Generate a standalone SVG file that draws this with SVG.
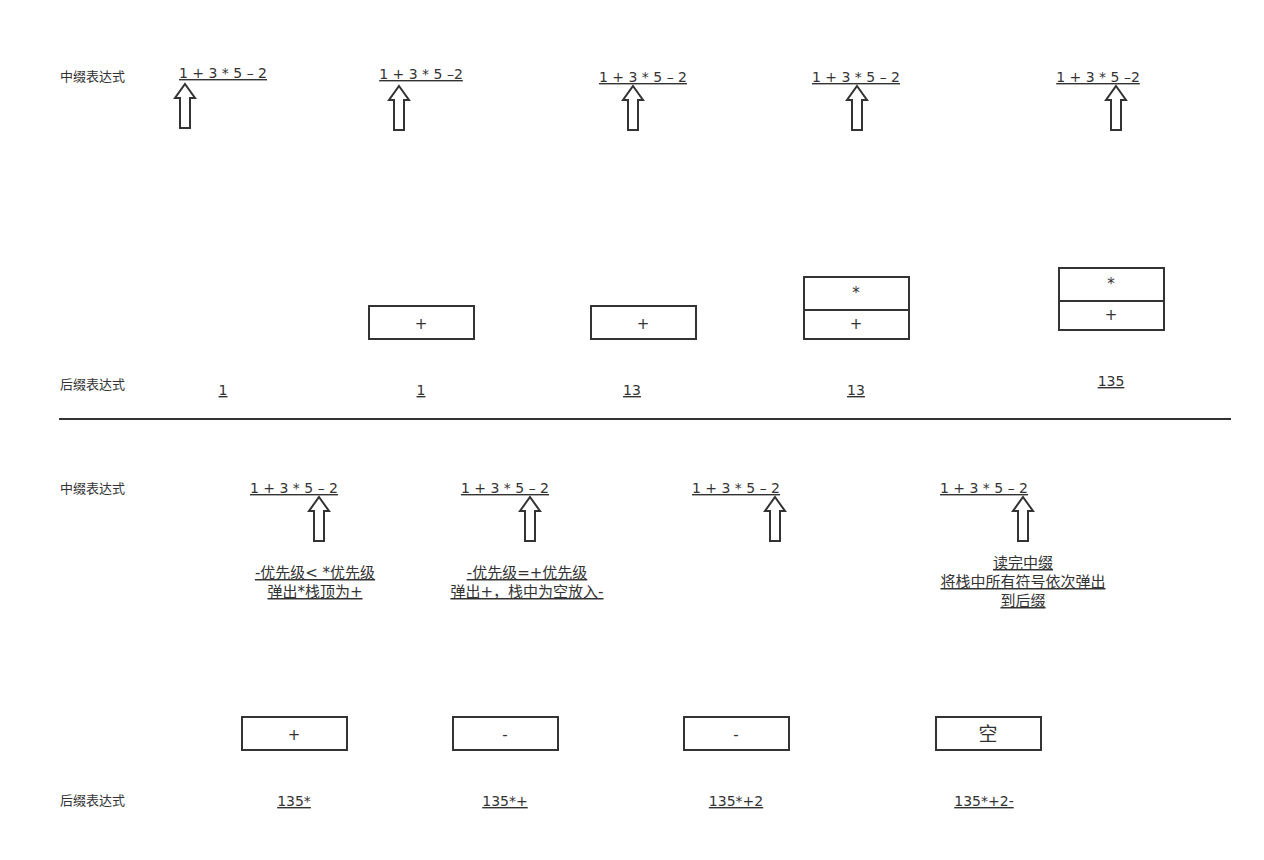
<svg xmlns="http://www.w3.org/2000/svg" width="1264" height="860" viewBox="0 0 1264 860">
<style>
text{font-family:"DejaVu Sans","Noto Sans CJK SC",sans-serif;fill:#333;}
.lbl{font-size:13px;}
.u{font-size:14px;text-decoration:underline;text-anchor:middle;}
.c{font-size:15px;text-decoration:underline;text-anchor:middle;}
.n{font-size:14px;text-decoration:underline;text-anchor:middle;}
.bx{fill:#fff;stroke:#333;stroke-width:2;}
.bt{font-size:15px;text-anchor:middle;}
.ar{fill:#fff;stroke:#333;stroke-width:2;stroke-linejoin:miter;}
</style>
<defs>
<path id="arrow" d="M0,0 L10,14 L5,14 L5,44 L-5,44 L-5,14 L-10,14 Z"/>
</defs>
<rect width="1264" height="860" fill="#fff"/>
<g id="labels">
<text class="lbl" x="60" y="81">中缀表达式</text>
<text class="lbl" x="60" y="389">后缀表达式</text>
<text class="lbl" x="60" y="493">中缀表达式</text>
<text class="lbl" x="60" y="805">后缀表达式</text>
</g>
<g id="connectors">
<line x1="59" y1="419" x2="1231" y2="419" stroke="#333" stroke-width="2"/>
</g>
<g id="step1">
<text class="u" x="223" y="78">1 + 3 * 5 – 2</text>
<use href="#arrow" class="ar" x="185" y="84"/>
<text class="n" x="223" y="395">1</text>
</g>
<g id="step2">
<text class="u" x="421" y="79">1 + 3 * 5 –2</text>
<use href="#arrow" class="ar" x="399" y="86"/>
<rect class="bx" x="369" y="306" width="105" height="33"/>
<text class="bt" x="421" y="329">+</text>
<text class="n" x="421" y="395">1</text>
</g>
<g id="step3">
<text class="u" x="643" y="82">1 + 3 * 5 – 2</text>
<use href="#arrow" class="ar" x="633" y="86"/>
<rect class="bx" x="591" y="306" width="105" height="33"/>
<text class="bt" x="643" y="329">+</text>
<text class="n" x="632" y="395">13</text>
</g>
<g id="step4">
<text class="u" x="856" y="82">1 + 3 * 5 – 2</text>
<use href="#arrow" class="ar" x="857" y="86"/>
<rect class="bx" x="804" y="277" width="105" height="62"/>
<line x1="804" y1="310" x2="909" y2="310" stroke="#333" stroke-width="2"/>
<text class="bt" x="856" y="298">*</text>
<text class="bt" x="856" y="329">+</text>
<text class="n" x="856" y="395">13</text>
</g>
<g id="step5">
<text class="u" x="1098" y="82">1 + 3 * 5 –2</text>
<use href="#arrow" class="ar" x="1116" y="86"/>
<rect class="bx" x="1059" y="268" width="105" height="62"/>
<line x1="1059" y1="301" x2="1164" y2="301" stroke="#333" stroke-width="2"/>
<text class="bt" x="1111" y="289">*</text>
<text class="bt" x="1111" y="320">+</text>
<text class="n" x="1111" y="386">135</text>
</g>
<g id="step6">
<text class="u" x="294" y="493">1 + 3 * 5 – 2</text>
<use href="#arrow" class="ar" x="319" y="497"/>
<text class="c" x="315" y="578">-优先级&lt; *优先级</text>
<text class="c" x="315" y="597">弹出*栈顶为+</text>
<rect class="bx" x="242" y="717" width="105" height="33"/>
<text class="bt" x="294" y="740">+</text>
<text class="n" x="294" y="806">135*</text>
</g>
<g id="step7">
<text class="u" x="505" y="493">1 + 3 * 5 – 2</text>
<use href="#arrow" class="ar" x="530" y="497"/>
<text class="c" x="527" y="578">-优先级=+优先级</text>
<text class="c" x="527" y="597">弹出+，栈中为空放入-</text>
<rect class="bx" x="453" y="717" width="105" height="33"/>
<text class="bt" x="505" y="740">-</text>
<text class="n" x="505" y="806">135*+</text>
</g>
<g id="step8">
<text class="u" x="736" y="493">1 + 3 * 5 – 2</text>
<use href="#arrow" class="ar" x="775" y="497"/>
<rect class="bx" x="684" y="717" width="105" height="33"/>
<text class="bt" x="736" y="740">-</text>
<text class="n" x="736" y="806">135*+2</text>
</g>
<g id="step9">
<text class="u" x="984" y="493">1 + 3 * 5 – 2</text>
<use href="#arrow" class="ar" x="1023" y="497"/>
<text class="c" x="1023" y="568">读完中缀</text>
<text class="c" x="1023" y="587">将栈中所有符号依次弹出</text>
<text class="c" x="1023" y="606">到后缀</text>
<rect class="bx" x="936" y="717" width="105" height="33"/>
<text class="bt" x="988" y="741" style="font-size:19px">空</text>
<text class="n" x="984" y="806">135*+2-</text>
</g>
</svg>
